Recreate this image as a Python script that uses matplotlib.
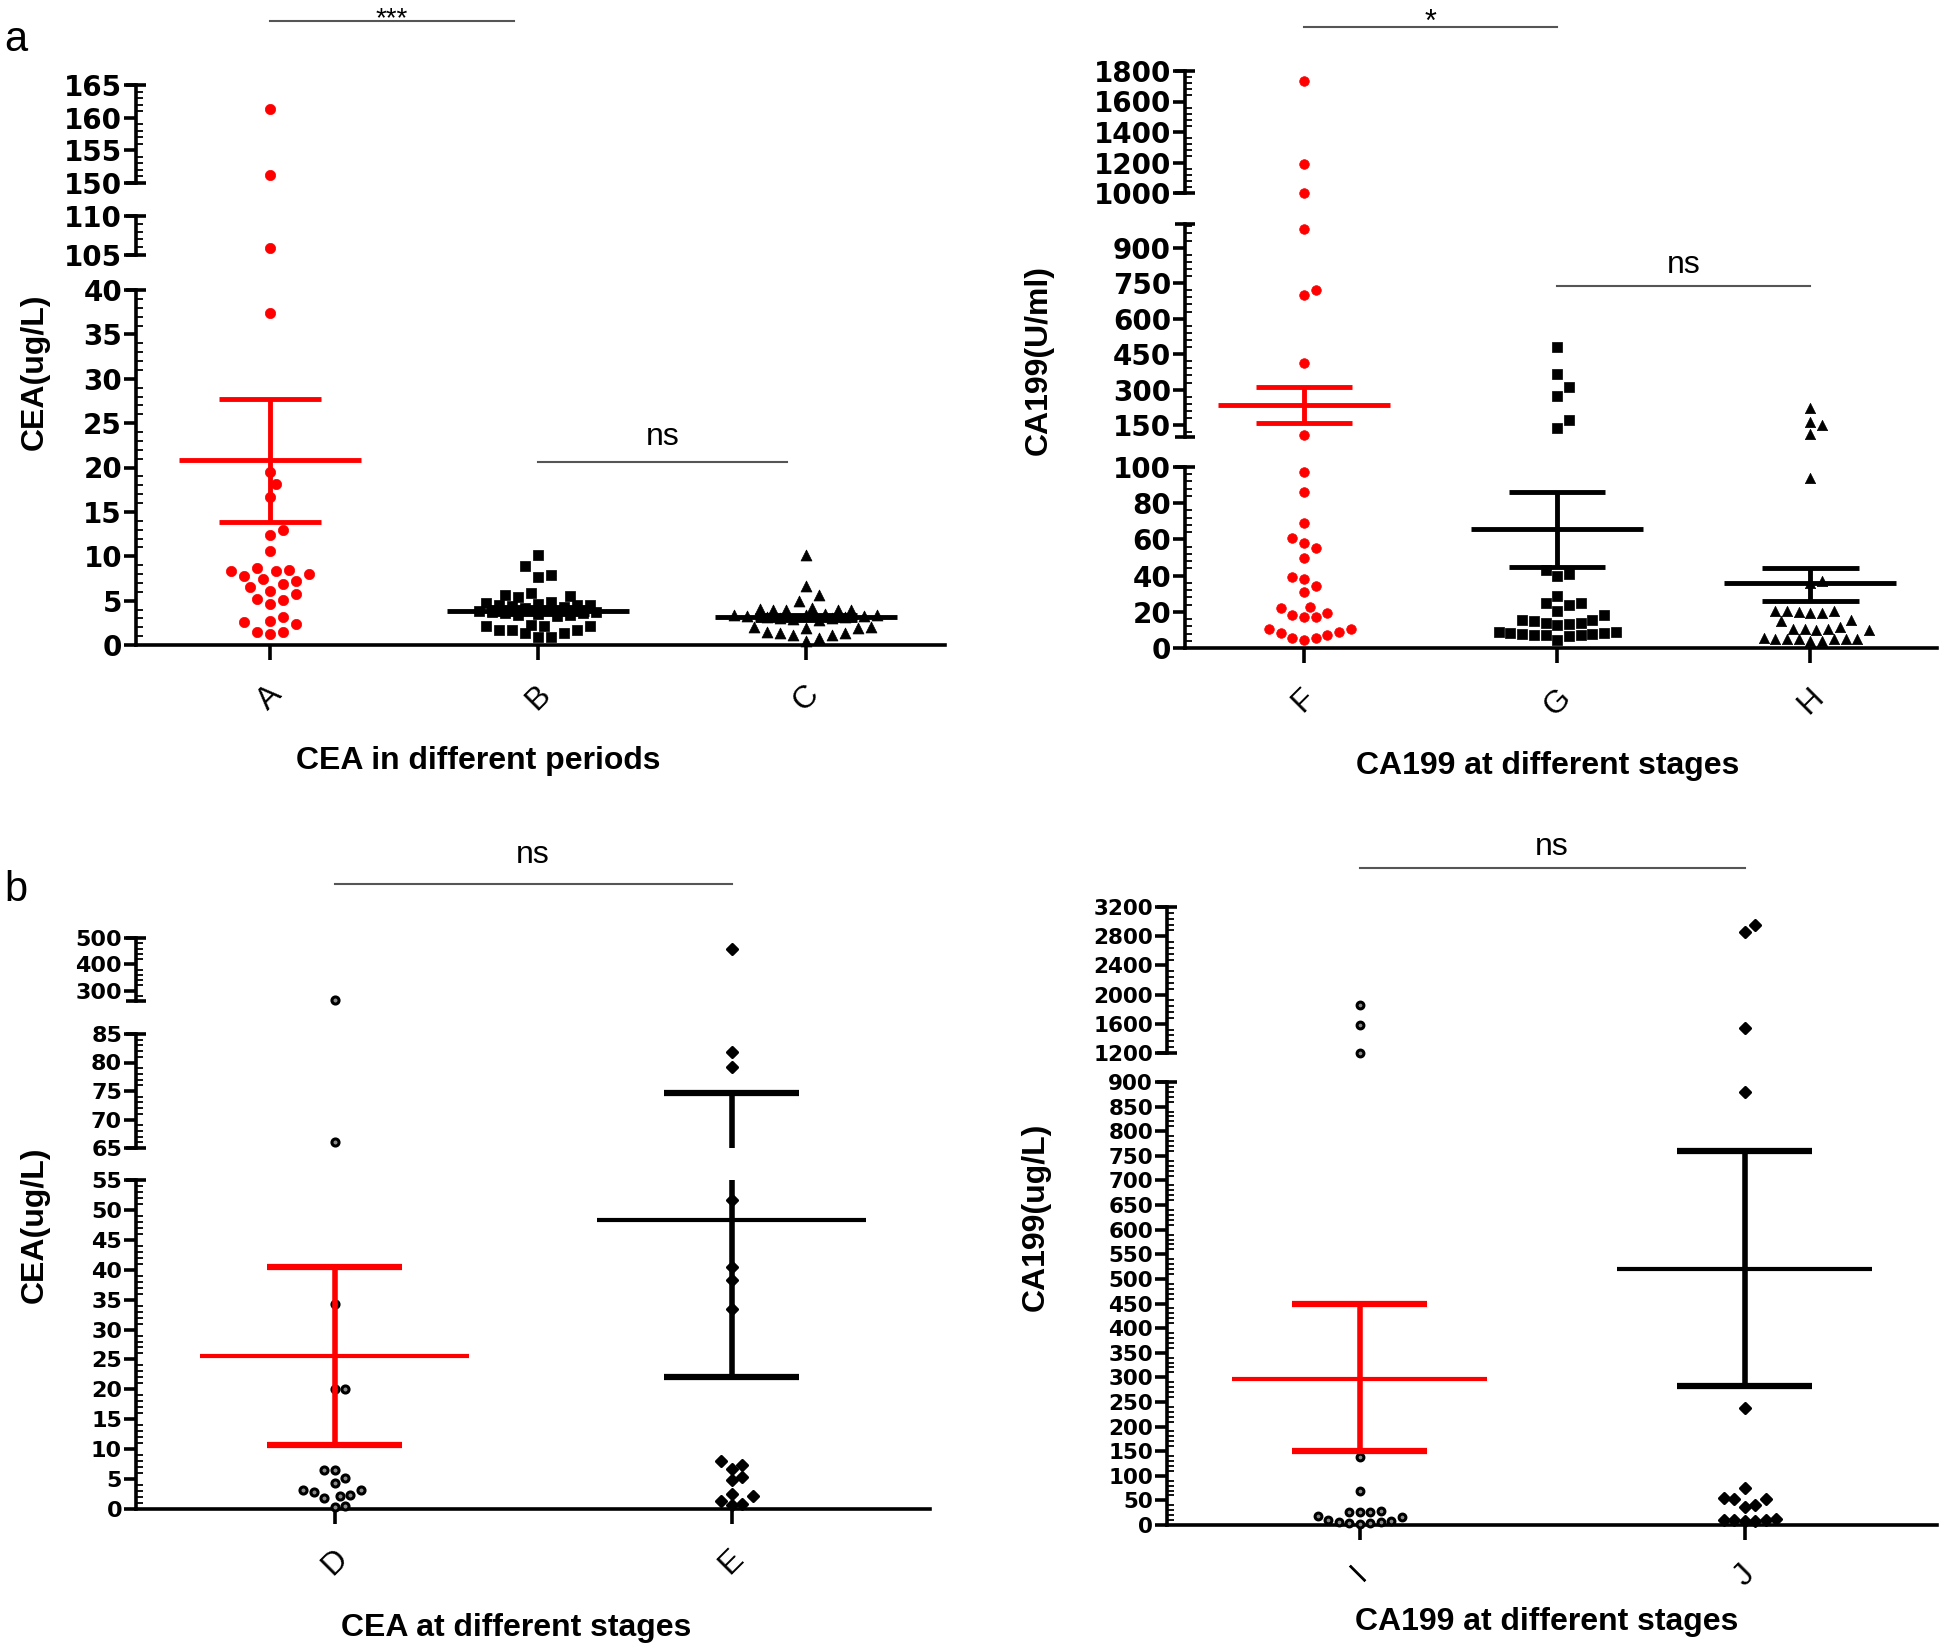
import numpy as np
import matplotlib
matplotlib.use("Agg")
import matplotlib.pyplot as plt
import matplotlib.transforms as mtransforms
from matplotlib.ticker import FixedLocator, MultipleLocator

plt.rcParams['font.family'] = ['Liberation Sans', 'DejaVu Sans']

# ---------------- data ----------------
# Panel a (left): CEA in different periods
cea_period_labels = ["A", "B", "C"]
cea_A = [161.3, 151.2, 105.9, 37.4, 19.5, 18.1, 16.7, 13.0, 12.4, 10.6,
         8.3, 8.45, 8.7, 8.0, 8.3, 7.8, 7.2, 6.9, 7.4, 6.5, 6.1, 5.7,
         4.6, 5.1, 5.2, 3.2, 2.6, 2.7, 2.4, 1.5, 1.2, 1.5]
cea_B = [10.1, 8.9, 7.7, 7.9, 5.9, 5.5, 5.4, 5.6, 4.3, 4.5, 4.5, 4.6, 4.4,
         4.7, 4.9, 4.5, 4.2, 3.4, 3.7, 3.6, 3.4, 3.6, 3.8, 3.5, 3.7, 3.9,
         3.3, 2.1, 1.7, 1.4, 2.1, 2.25, 1.7, 1.4, 1.7, 2.1, 0.9, 0.9]
cea_C = [10.1, 6.6, 5.6, 5.0, 4.0, 4.1, 4.0, 3.9, 4.0, 4.2, 3.4, 3.3, 3.4,
         3.5, 3.4, 3.3, 3.2, 3.0, 3.1, 2.9, 3.0, 2.8, 1.9, 1.35, 1.1, 1.9,
         2.0, 2.0, 1.1, 1.35, 1.5, 0.8, 0.4]
cea_period_mean = [20.9, 3.85, 3.1]
cea_period_low = [13.9, 3.45, 2.8]
cea_period_high = [27.7, 4.25, 3.4]

# Panel a (right): CA199 at different stages
ca_stage_labels = ["F", "G", "H"]
ca_F = [1733, 1193, 1000, 980, 720, 700, 411, 110, 97, 86, 69, 61, 58, 55,
        50, 39, 38, 34, 31, 22, 19.3, 17, 17, 18, 22.6, 10.7, 8.3, 5.5,
        4.6, 5.5, 7.2, 8.8, 10.7]
ca_G = [480, 365, 311, 272, 170, 139, 43, 41, 40, 29, 25, 24, 25, 18.4,
        15.6, 13.8, 13.3, 12.9, 13.8, 14.7, 15.6, 20.3, 8.8, 8.3, 7.7, 7.3,
        7.3, 4.6, 6.5, 7.0, 7.7, 8.3, 8.8]
ca_H = [224, 165, 150, 112, 94, 37, 36, 20.3, 19.9, 19.3, 19.3, 20.6, 20.6,
        15.6, 14.7, 11.4, 10.7, 10.1, 10.1, 10.7, 10.7, 5.2, 5.2, 5.2, 5.6,
        4.0, 4.0, 5.2, 5.2, 5.2]
ca_stage_mean = [235, 66, 36]
ca_stage_low = [160, 45, 26]
ca_stage_high = [310, 86, 44]

# Panel b (left): CEA at different stages
cea_stage_labels = ["D", "E"]
cea_D = [262, 66, 34.3, 20.1, 20.1, 6.6, 6.6, 5.1, 4.3, 3.2, 2.9, 3.1, 2.3,
         2.1, 1.8, 0.5, 0.4]
cea_E = [459, 81.9, 79.2, 51.6, 40.5, 38.3, 33.5, 8.0, 7.3, 6.7, 5.3, 4.9,
         2.5, 2.2, 1.3, 0.7, 0.9]
cea_stage_mean = [25.6, 48.3]
cea_stage_low = [10.7, 22.0]
cea_stage_high = [40.4, 74.6]

# Panel b (right): CA199 at different stages
ca2_labels = ["I", "J"]
ca_I = [1860, 1583, 1205, 139, 69, 27, 29, 27, 27, 16, 9, 7, 5, 3, 5, 7,
        11, 19]
ca_J = [2947, 2861, 1540, 880, 237, 75, 53, 53, 55, 40, 37, 11, 9, 9, 11,
        11, 13]
ca2_mean = [297, 520]
ca2_low = [150, 283]
ca2_high = [448, 760]

# ---------------- layout ----------------
W, H = 1944, 1652
DPI = 100
fig = plt.figure(figsize=(W / DPI, H / DPI), dpi=DPI)
fig.patch.set_facecolor('white')

RED = '#ff0000'
SPINE_LW = 2.6

panels = [
    dict(cats=cea_period_labels, groups=[cea_A, cea_B, cea_C],
         mean=cea_period_mean, low=cea_period_low, high=cea_period_high,
         x0=136, x1=945, xlim=(-0.5, 2.52),
         segs=[(150, 165, 5, 1, 85, 183), (105, 110, 5, 1, 216, 255),
               (0, 40, 5, 1, 290, 645)],
         markers=['o', 's', '^'], mfc=[RED, 'k', 'k'], mec=[RED, 'k', 'k'],
         msize=[55, 60, 62], mlw=0.5, ecol=[RED, 'k', 'k'],
         mw=0.34, cw=0.19, lw_mean=3.5, lw_cap=3.5, lw_v=3.5, d=13.0,
         maxw=[62, 62, 80],
         tfs=20, ylabel='CEA(ug/L)', ylab_xy=(35, 372),
         xlabel='CEA in different periods', xlab_xy=(478, 761),
         brackets=[(0, 0.91, 21, '***', 26, 20, 'baseline'),
                   (1.0, 1.93, 462, 'ns', 437, 23, 'center')]),
    dict(cats=ca_stage_labels, groups=[ca_F, ca_G, ca_H],
         mean=ca_stage_mean, low=ca_stage_low, high=ca_stage_high,
         x0=1185, x1=1937, xlim=(-0.47, 2.5),
         segs=[(1000, 1800, 200, 40, 71, 193), (100, 1000, 150, 30, 224, 437),
               (0, 100, 20, 4, 467, 648)],
         markers=['o', 's', '^'], mfc=[RED, 'k', 'k'], mec=[RED, 'k', 'k'],
         msize=[48, 55, 55], mlw=0.5, ecol=[RED, 'k', 'k'],
         mw=0.34, cw=0.19, lw_mean=3.5, lw_cap=3.5, lw_v=3.5, d=11.7,
         maxw=[60, 80, 70],
         tfs=20, ylabel='CA199(U/ml)', ylab_xy=(1039, 360),
         xlabel='CA199 at different stages', xlab_xy=(1548, 766),
         brackets=[(0, 1.0, 27, '*', 31, 22, 'baseline'),
                   (1.0, 2.0, 286, 'ns', 265, 23, 'center')]),
    dict(cats=cea_stage_labels, groups=[cea_D, cea_E],
         mean=cea_stage_mean, low=cea_stage_low, high=cea_stage_high,
         x0=136, x1=930, xlim=(-0.5, 1.5),
         segs=[(260, 500, 100, 20, 938, 1001), (65, 85, 5, 1, 1034, 1148),
               (0, 55, 5, 1, 1180, 1509)],
         markers=['o', 'D'], mfc=['#8a8a8a', 'k'], mec=['k', 'k'],
         msize=[26, 26], mlw=2.2, ecol=[RED, 'k'],
         mw=0.34, cw=0.17, lw_mean=3.0, lw_cap=4.5, lw_v=4.0, d=10.5,
         maxw=[40, 40],
         tfs=16, ylabel='CEA(ug/L)', ylab_xy=(35, 1225),
         xlabel='CEA at different stages', xlab_xy=(516, 1628),
         brackets=[(0, 1.0, 884, 'ns', 855, 23, 'center')]),
    dict(cats=ca2_labels, groups=[ca_I, ca_J],
         mean=ca2_mean, low=ca2_low, high=ca2_high,
         x0=1167, x1=1937, xlim=(-0.5, 1.5),
         segs=[(1200, 3200, 400, 80, 907, 1053), (0, 900, 50, 10, 1082, 1525)],
         markers=['o', 'D'], mfc=['#8a8a8a', 'k'], mec=['k', 'k'],
         msize=[24, 26], mlw=2.2, ecol=[RED, 'k'],
         mw=0.33, cw=0.175, lw_mean=3.0, lw_cap=4.5, lw_v=4.0, d=10.5,
         maxw=[48, 48],
         tfs=15.5, ylabel='CA199(ug/L)', ylab_xy=(1036, 1217),
         xlabel='CA199 at different stages', xlab_xy=(1547, 1622),
         brackets=[(0, 1.0, 868, 'ns', 847, 23, 'center')]),
]


def swarm_offsets(ypx, d, maxw):
    n = len(ypx)
    xs = np.zeros(n)
    order = np.argsort(ypx)
    cand = [0.0]
    k = 1
    while k * d / 2.0 <= maxw:
        cand += [k * d / 2.0, -k * d / 2.0]
        k += 1
    placed = []
    for i in order:
        y = ypx[i]
        best_c, best_score = 0.0, -1.0
        chosen = None
        for c in cand:
            mind = min([np.hypot(c - px, y - py) for (px, py) in placed],
                       default=1e9)
            if mind >= 0.97 * d:
                chosen = c
                break
            if mind > best_score + 1e-6:
                best_score, best_c = mind, c
        if chosen is None:
            chosen = best_c
        xs[i] = chosen
        placed.append((chosen, y))
    return xs


def seg_index(v, segs):
    for i, s in enumerate(segs):
        if s[0] <= v <= s[1]:
            return i
    dists = [min(abs(v - s[0]), abs(v - s[1])) for s in segs]
    return int(np.argmin(dists))


for P in panels:
    axes = []
    nseg = len(P['segs'])
    for k, (lo, hi, maj, mnr, yt, yb) in enumerate(P['segs']):
        ax = fig.add_axes([P['x0'] / W, 1 - yb / H, (P['x1'] - P['x0']) / W,
                           (yb - yt) / H])
        ax.set_xlim(*P['xlim'])
        ax.set_ylim(lo, hi)
        ax.patch.set_alpha(0)
        for sp in ['top', 'right']:
            ax.spines[sp].set_visible(False)
        ax.spines['left'].set_linewidth(SPINE_LW)
        is_bottom = (k == nseg - 1)
        if is_bottom:
            ax.spines['bottom'].set_linewidth(SPINE_LW)
            ax.set_xticks(range(len(P['cats'])))
            ax.set_xticklabels(P['cats'], rotation=45, ha='center',
                               fontsize=23, fontweight='normal')
            ax.tick_params(axis='x', direction='out', length=11,
                           width=SPINE_LW, pad=14)
        else:
            ax.spines['bottom'].set_visible(False)
            ax.set_xticks([])
        start = np.ceil(lo / maj) * maj
        majors = np.arange(start, hi + 1e-9, maj)
        ax.yaxis.set_major_locator(FixedLocator(majors))
        ax.set_yticklabels([f"{int(m)}" for m in majors],
                           fontsize=P['tfs'], fontweight='bold',
                           family='DejaVu Sans')
        ax.yaxis.set_minor_locator(MultipleLocator(mnr))
        ax.tick_params(axis='y', which='major', direction='out', length=9,
                       width=SPINE_LW, pad=1)
        ax.tick_params(axis='y', which='minor', direction='in', length=5,
                       width=1.3)
        wpx = P['x1'] - P['x0']
        cap = 10.0 / wpx
        trc = mtransforms.blended_transform_factory(ax.transAxes, ax.transData)
        ends = [hi] if is_bottom else [lo, hi]
        for yv in ends:
            ax.plot([-cap, cap], [yv, yv], transform=trc, color='k',
                    lw=SPINE_LW, clip_on=False, solid_capstyle='butt')
        axes.append(ax)

    bottom = axes[-1]
    ppu = (bottom.transData.transform((1, 0))[0]
           - bottom.transData.transform((0, 0))[0])

    for gi, vals in enumerate(P['groups']):
        vals = np.asarray(vals, dtype=float)
        sidx = np.array([seg_index(v, P['segs']) for v in vals])
        ypx = np.array([axes[s].transData.transform((0, v))[1]
                        for v, s in zip(vals, sidx)])
        offs = swarm_offsets(ypx, P['d'], P['maxw'][gi])
        xs = gi + offs / ppu
        for s in range(nseg):
            m = sidx == s
            if m.any():
                axes[s].scatter(xs[m], vals[m], marker=P['markers'][gi],
                                s=P['msize'][gi], facecolor=P['mfc'][gi],
                                edgecolor=P['mec'][gi], linewidths=P['mlw'],
                                clip_on=False, zorder=3)
        mu, lo_e, hi_e = P['mean'][gi], P['low'][gi], P['high'][gi]
        c = P['ecol'][gi]
        for ax in axes:
            ax.plot([gi - P['mw'], gi + P['mw']], [mu, mu], color=c,
                    lw=P['lw_mean'], solid_capstyle='butt', zorder=4)
            ax.plot([gi - P['cw'], gi + P['cw']], [hi_e, hi_e], color=c,
                    lw=P['lw_cap'], solid_capstyle='butt', zorder=4)
            ax.plot([gi - P['cw'], gi + P['cw']], [lo_e, lo_e], color=c,
                    lw=P['lw_cap'], solid_capstyle='butt', zorder=4)
            ax.plot([gi, gi], [lo_e, hi_e], color=c, lw=P['lw_v'],
                    solid_capstyle='butt', zorder=4)

    top_ax = axes[0]
    trb = mtransforms.blended_transform_factory(top_ax.transData,
                                                fig.transFigure)
    for (xa, xb, ly, lab, ty, fs, va) in P['brackets']:
        top_ax.plot([xa, xb], [1 - ly / H, 1 - ly / H], transform=trb,
                    color='#555555', lw=1.5, clip_on=False)
        top_ax.text((xa + xb) / 2, 1 - ty / H, lab, transform=trb,
                    ha='center', va=va, fontsize=fs,
                    fontweight='normal')

    fig.text(P['ylab_xy'][0] / W, 1 - P['ylab_xy'][1] / H, P['ylabel'],
             rotation=90, ha='center', va='center', fontsize=23,
             fontweight='bold')
    fig.text(P['xlab_xy'][0] / W, 1 - P['xlab_xy'][1] / H, P['xlabel'],
             ha='center', va='center', fontsize=23, fontweight='bold')

fig.text(4 / W, 1 - 40 / H, 'a', ha='left', va='center', fontsize=30)
fig.text(4 / W, 1 - 890 / H, 'b', ha='left', va='center', fontsize=30)

fig.savefig('out.png', dpi=DPI, facecolor='white')
